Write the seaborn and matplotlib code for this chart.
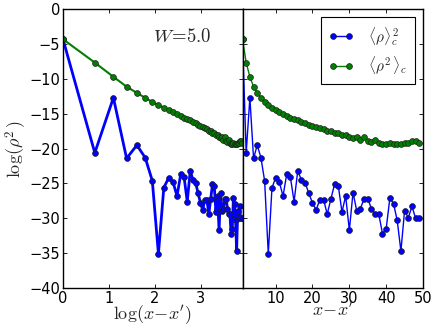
import numpy as np
import pandas as pd
import matplotlib
matplotlib.use("Agg")
import matplotlib.pyplot as plt
import seaborn as sns

# separation x - x'
dx = np.arange(1, 50)

# log <rho>_c^2
rho_sq = [-4.3, -20.6, -12.7, -21.4, -19.5, -21.3, -24.6, -35.1, -25.6, -24.2,
          -24.8, -26.8, -23.7, -24.1, -27.6, -23.2, -24.5, -24.9, -26.4, -27.8,
          -28.8, -27.3, -27.3, -29.4, -27.2, -25.1, -25.3, -29.1, -26.8, -31.7,
          -26.3, -28.9, -28.6, -27.2, -27.2, -28.6, -29.4, -29.4, -32.2, -31.5,
          -27.1, -27.9, -30.3, -34.7, -28.9, -29.9, -28.3, -30.0, -30.0]

# log <rho^2>_c
rho2 = [-4.3, -7.65, -9.7, -11.1, -12.0, -12.7, -13.3, -13.75, -14.1, -14.5,
        -14.8, -15.1, -15.3, -15.6, -15.8, -15.95, -16.15, -16.3, -16.6, -16.8,
        -16.95, -17.0, -17.2, -17.4, -17.5, -17.7, -17.8, -18.0, -18.0, -18.3,
        -18.5, -18.4, -18.7, -18.4, -18.9, -19.05, -18.8, -19.2, -19.4, -19.35,
        -19.2, -19.35, -19.4, -19.4, -19.2, -19.15, -18.9, -18.9, -19.25]

labels = [r'$\langle\rho\rangle_c^{\,2}$', r'$\langle\rho^2\,\rangle_c$']

sns.set_style("ticks")
plt.rcParams['font.family'] = ['DejaVu Sans']
plt.rcParams['mathtext.fontset'] = 'cm'
plt.rcParams['xtick.direction'] = 'in'
plt.rcParams['ytick.direction'] = 'in'
plt.rcParams['xtick.top'] = True
plt.rcParams['ytick.right'] = True
plt.rcParams['axes.edgecolor'] = 'black'
plt.rcParams['axes.linewidth'] = 1.0

fig = plt.figure(figsize=(4.36, 3.27), dpi=100)
ax1 = fig.add_axes([0.1445, 0.1193, 0.4117, 0.8523])
ax2 = fig.add_axes([0.5562, 0.1193, 0.414, 0.8523])

mk = dict(marker='o', markersize=4.2, markeredgewidth=0.5, markeredgecolor='#202020')

sns.lineplot(x=np.log(dx), y=rho_sq, ax=ax1, color='b', lw=2, **mk)
sns.lineplot(x=np.log(dx), y=rho2, ax=ax1, color='g', lw=1.5, **mk)

sns.lineplot(x=dx, y=rho_sq, ax=ax2, color='b', lw=1, label=labels[0], **mk)
sns.lineplot(x=dx, y=rho2, ax=ax2, color='g', lw=1, label=labels[1], **mk)

for ax in (ax1, ax2):
    ax.set_ylim(-40, 0)
    ax.set_yticks(np.arange(-40, 1, 5))
    ax.tick_params(length=3, width=0.6, labelsize=10.5, pad=2, colors='black')

ax1.set_xlim(0, np.log(50))
ax1.set_xticks([0, 1, 2, 3])
ax2.set_xlim(1, 50)
ax2.set_xticks([10, 20, 30, 40, 50])
ax2.tick_params(labelleft=False)

ax1.set_xlabel(r'$\log(x\!-\!x^{\prime})$', fontsize=13, labelpad=-2)
ax2.set_xlabel(r'$x\!-\!x^{\prime}$', fontsize=13, labelpad=-4)
ax1.set_ylabel(r'$\log(\rho^2\,)$', fontsize=13, labelpad=0)

ax1.text(0.663, 0.902, r'$W\!=\!5.0$', transform=ax1.transAxes,
         ha='center', va='center', fontsize=13.5)

leg = ax2.legend(loc='upper right', numpoints=2, fontsize=11, frameon=True,
                 fancybox=False, edgecolor='black', framealpha=1,
                 borderaxespad=0.5, handlelength=1.6, labelspacing=0.45,
                 borderpad=0.5, handletextpad=1.0)
leg.get_frame().set_linewidth(0.8)

fig.savefig('out.png', dpi=100)
